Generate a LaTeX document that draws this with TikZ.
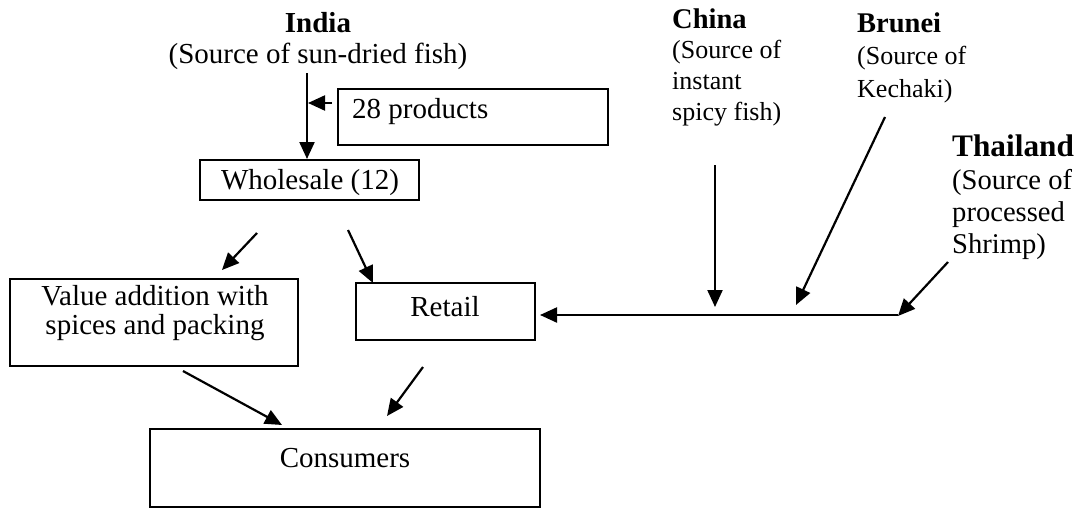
\documentclass[tikz,border=0pt]{standalone}
\usepackage{fontspec}
\setmainfont{Liberation Serif}
\usetikzlibrary{arrows.meta,calc}
\tikzset{
  txt/.style={font=\fontsize{29}{30}\selectfont, inner sep=0pt, anchor=base},
  srctxt/.style={font=\fontsize{26}{30}\selectfont, inner sep=0pt, anchor=base west},
  srchead/.style={font=\fontsize{28.5}{30}\selectfont\bfseries, inner sep=0pt, anchor=base west},
  thaitxt/.style={font=\fontsize{28.6}{32}\selectfont, inner sep=0pt, anchor=base west},
  thaihead/.style={font=\fontsize{31.3}{32}\selectfont\bfseries, inner sep=0pt, anchor=base west},
  boxnode/.style={draw, line width=2.4pt, inner sep=0pt},
  arr/.style={line width=2.2pt, -{Triangle[length=17pt,width=15pt]}}
}
\begin{document}
\begin{tikzpicture}[x=1pt,y=-1pt]
\useasboundingbox (0,0) rectangle (1084,509);

% boxes
\node[boxnode, minimum width=270pt, minimum height=56pt] (prod) at (473,117) {};
\node[boxnode, minimum width=219pt, minimum height=40pt] (whole) at (309.5,180) {};
\node[boxnode, minimum width=288pt, minimum height=87pt] (value) at (154,322.5) {};
\node[boxnode, minimum width=179pt, minimum height=57pt] (retail) at (445.5,311.5) {};
\node[boxnode, minimum width=390pt, minimum height=78pt] (cons) at (345,468) {};

% texts
\node[txt, font=\fontsize{29}{30}\selectfont\bfseries] (india) at (318,32) {India};
\node[txt] (indiasrc) at (318,63) {(Source of sun-dried fish)};
\node[txt, anchor=base west] (prodtxt) at (352,118) {28 products};
\node[txt] (wholetxt) at (310,189) {Wholesale (12)};
\node[txt] (valuetxt1) at (155,305) {Value addition with};
\node[txt] (valuetxt2) at (155,334) {spices and packing};
\node[txt] (retailtxt) at (445,316) {Retail};
\node[txt] (constxt) at (345,467) {Consumers};

\node[srchead] (china) at (672,28) {China};
\node[srctxt] (china1) at (672,58) {(Source of};
\node[srctxt] (china2) at (672,89) {instant};
\node[srctxt] (china3) at (672,120) {spicy fish)};

\node[srchead] (brunei) at (857,32) {Brunei};
\node[srctxt] (brunei1) at (857,64) {(Source of};
\node[srctxt] (brunei2) at (857,97) {Kechaki)};

\node[thaihead] (thai) at (952,156) {Thailand};
\node[thaitxt] (thai1) at (952,189) {(Source of};
\node[thaitxt] (thai2) at (952,221) {processed};
\node[thaitxt] (thai3) at (952,253) {Shrimp)};

% connector end points
\coordinate (iA) at (307,73);
\coordinate (iB) at (307,159);
\coordinate (pA) at (332,103);
\coordinate (pB) at (308,103);
\coordinate (wvA) at (257,233);
\coordinate (wvB) at (222,270);
\coordinate (wrA) at (348,230);
\coordinate (wrB) at (373,283);
\coordinate (vcA) at (183,371);
\coordinate (vcB) at (282,425);
\coordinate (rcA) at (423,367);
\coordinate (rcB) at (387,416);
\coordinate (cA) at (715,165);
\coordinate (cB) at (715,307);
\coordinate (bA) at (885,117);
\coordinate (bB) at (796,305);
\coordinate (tA) at (948,262);
\coordinate (tB) at (898,316);
\coordinate (hA) at (898,315);
\coordinate (hB) at (540,315);

% connectors
\draw[arr] (iA) -- (iB);
\draw[arr] (pA) -- (pB);
\draw[arr] (wvA) -- (wvB);
\draw[arr] (wrA) -- (wrB);
\draw[arr] (vcA) -- (vcB);
\draw[arr] (rcA) -- (rcB);
\draw[arr] (cA) -- (cB);
\draw[arr] (bA) -- (bB);
\draw[arr] (tA) -- (tB);
\draw[arr] (hA) -- (hB);
\end{tikzpicture}
\end{document}
